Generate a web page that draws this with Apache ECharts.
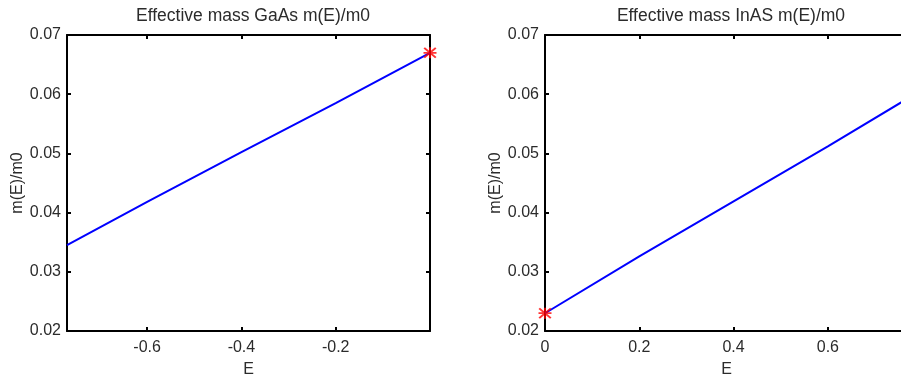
<!DOCTYPE html>
<html>
<head>
<meta charset="utf-8">
<script src="https://cdn.jsdelivr.net/npm/echarts@6/dist/echarts.min.js"></script>
<style>
  html, body { margin: 0; padding: 0; background: #fff; }
  #chart { width: 901px; height: 381px; }
</style>
</head>
<body>
<div id="chart"></div>
<script>
// values
const gaasE = [-0.77, -0.6, -0.4, -0.2, 0];
const gaasMass = [0.0345, 0.0418, 0.0502, 0.0585, 0.067];
const inasE = [0, 0.2, 0.4, 0.6, 0.77];
const inasMass = [0.023, 0.0326, 0.0419, 0.0512, 0.0593];
const gaasEdge = [[0, 0.067]];
const inasEdge = [[0, 0.023]];
const gaasTicks = [-0.6, -0.4, -0.2];
const inasTicks = [0, 0.2, 0.4, 0.6];
const titles = ['Effective mass GaAs m(E)/m0', 'Effective mass InAS m(E)/m0'];

const font = 'Liberation Sans';
const txt = '#2b2b2b';
// asterisk marker like matlab '*'
const star = 'path://M0 4.2H10V5.8H0Z M4.2 0H5.8V10H4.2Z M1.1 0L10 8.9L8.9 10L0 1.1Z M8.9 0L10 1.1L1.1 10L0 8.9Z';

function xAx(grid, min, max, ticks, pos) {
  return {
    type: 'value', gridIndex: grid, position: pos, min: min, max: max,
    axisLine: { show: true, onZero: false, lineStyle: { color: '#000', width: 2 } },
    axisTick: { show: true, inside: true, length: 4, customValues: ticks, lineStyle: { color: '#000', width: 2 } },
    axisLabel: {
      show: pos === 'bottom', customValues: ticks, margin: 9,
      fontFamily: font, fontSize: 16, color: txt,
      formatter: v => v === 0 ? '0' : v.toFixed(1)
    },
    splitLine: { show: false },
    name: pos === 'bottom' ? 'E' : '', nameLocation: 'middle', nameGap: 31,
    nameTextStyle: { fontFamily: font, fontSize: 16, color: txt }
  };
}

function yAx(grid, pos) {
  return {
    type: 'value', gridIndex: grid, position: pos, min: 0.02, max: 0.07, interval: 0.01,
    axisLine: { show: true, onZero: false, lineStyle: { color: '#000', width: 2 } },
    axisTick: { show: true, inside: true, length: 4, lineStyle: { color: '#000', width: 2 } },
    axisLabel: {
      show: pos === 'left', margin: 6,
      fontFamily: font, fontSize: 16, color: txt,
      formatter: v => v.toFixed(2)
    },
    splitLine: { show: false },
    name: pos === 'left' ? 'm(E)/m0' : '', nameLocation: 'middle', nameGap: 40,
    nameTextStyle: { fontFamily: font, fontSize: 16, color: txt }
  };
}

const zip = (a, b) => a.map((v, i) => [v, b[i]]);

let myChart = echarts.init(document.getElementById('chart'), null, { renderer: 'canvas' });
myChart.setOption({
  animation: false,
  backgroundColor: '#fff',
  title: [
    { text: titles[0], left: 248, top: 2, textAlign: 'center',
      textStyle: { fontFamily: font, fontSize: 17.5, fontWeight: 'normal', color: txt } },
    { text: titles[1], left: 726, top: 2, textAlign: 'center',
      textStyle: { fontFamily: font, fontSize: 17.5, fontWeight: 'normal', color: txt } }
  ],
  grid: [
    { left: 67, top: 35, width: 363, height: 296, outerBoundsMode: 'none' },
    { left: 545, top: 35, width: 363, height: 296, outerBoundsMode: 'none' }
  ],
  xAxis: [
    xAx(0, -0.77, 0, gaasTicks, 'bottom'),
    xAx(0, -0.77, 0, gaasTicks, 'top'),
    xAx(1, 0, 0.77, inasTicks, 'bottom'),
    xAx(1, 0, 0.77, inasTicks, 'top')
  ],
  yAxis: [
    yAx(0, 'left'),
    yAx(0, 'right'),
    yAx(1, 'left'),
    yAx(1, 'right')
  ],
  series: [
    {
      type: 'line', xAxisIndex: 0, yAxisIndex: 0, data: zip(gaasE, gaasMass),
      showSymbol: false, lineStyle: { color: '#0000ff', width: 2 }
    },
    {
      type: 'scatter', xAxisIndex: 0, yAxisIndex: 0, data: gaasEdge, clip: false,
      symbol: star, symbolSize: [13, 11], itemStyle: { color: '#ff0000' }, z: 5
    },
    {
      type: 'line', xAxisIndex: 2, yAxisIndex: 2, data: zip(inasE, inasMass),
      showSymbol: false, lineStyle: { color: '#0000ff', width: 2 }
    },
    {
      type: 'scatter', xAxisIndex: 2, yAxisIndex: 2, data: inasEdge, clip: false,
      symbol: star, symbolSize: [13, 11], itemStyle: { color: '#ff0000' }, z: 5
    }
  ]
});
</script>
</body>
</html>
